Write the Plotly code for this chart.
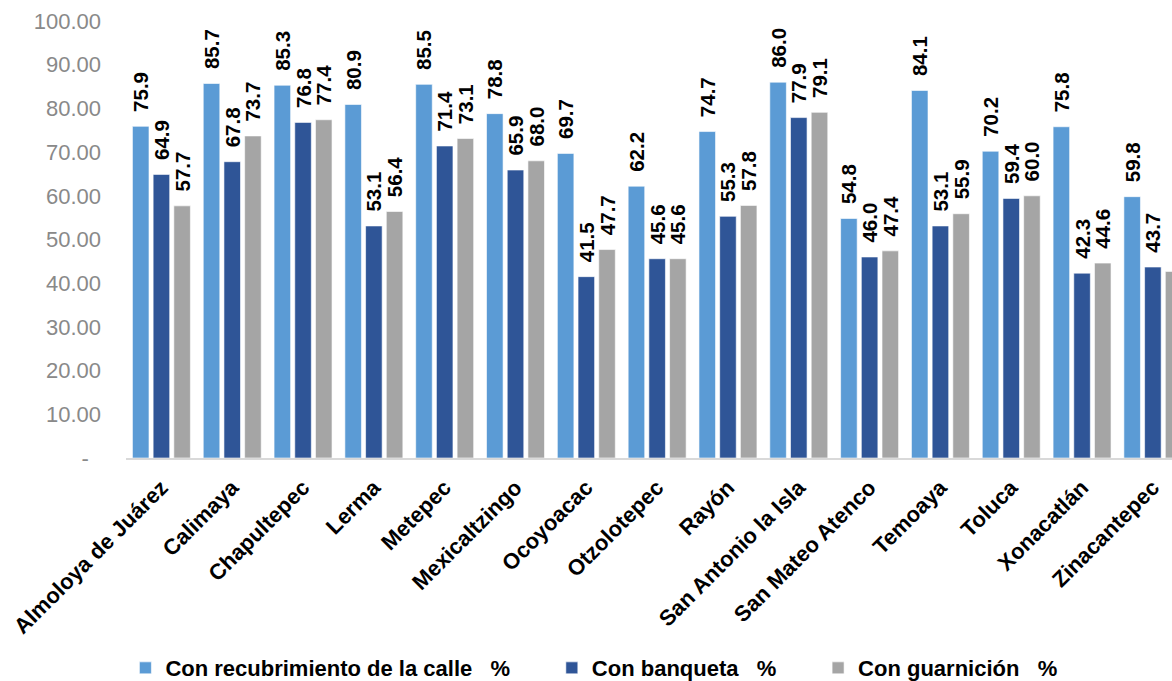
import plotly.graph_objects as go

municipios = [
    "Almoloya de Juárez", "Calimaya", "Chapultepec", "Lerma", "Metepec",
    "Mexicaltzingo", "Ocoyoacac", "Otzolotepec", "Rayón", "San Antonio la Isla",
    "San Mateo Atenco", "Temoaya", "Toluca", "Xonacatlán", "Zinacantepec",
]
recubrimiento = [75.9, 85.7, 85.3, 80.9, 85.5, 78.8, 69.7, 62.2, 74.7, 86.0, 54.8, 84.1, 70.2, 75.8, 59.8]
banqueta = [64.9, 67.8, 76.8, 53.1, 71.4, 65.9, 41.5, 45.6, 55.3, 77.9, 46.0, 53.1, 59.4, 42.3, 43.7]
guarnicion = [57.7, 73.7, 77.4, 56.4, 73.1, 68.0, 47.7, 45.6, 57.8, 79.1, 47.4, 55.9, 60.0, 44.6, 42.7]

y_ticks = [0, 10, 20, 30, 40, 50, 60, 70, 80, 90, 100]
y_ticktext = ["-\u00a0\u00a0"] + [f"{v:.2f}" for v in y_ticks[1:]]

NB = "\u00a0"
series = [
    ("Con recubrimiento de la calle" + NB * 3 + "%" + NB * 6, recubrimiento, "#5B9BD5"),
    ("Con banqueta" + NB * 3 + "%" + NB * 6, banqueta, "#2F5597"),
    ("Con guarnición" + NB * 3 + "%", guarnicion, "#A5A5A5"),
]

FONT = "Arial, Liberation Sans, sans-serif"

fig = go.Figure()
for name, vals, color in series:
    fig.add_trace(go.Bar(
        x=municipios,
        y=vals,
        name=name,
        marker=dict(color=color, line=dict(color="rgba(255,255,255,0.6)", width=1)),
        texttemplate=NB + NB + "%{y:.1f}",
        textposition="outside",
        textangle=-90,
        constraintext="none",
        cliponaxis=False,
        textfont=dict(family=FONT, size=20.5, color="#000000", weight="bold"),
    ))

fig.update_layout(
    width=1172,
    height=681,
    margin=dict(l=126, r=0, t=21, b=223, autoexpand=False),
    paper_bgcolor="white",
    plot_bgcolor="white",
    barmode="group",
    bargap=0.123,
    bargroupgap=0.2,
    font=dict(family=FONT),
    showlegend=True,
    legend=dict(
        orientation="h",
        xref="container",
        yref="container",
        x=0.107,
        xanchor="left",
        y=0.019,
        yanchor="middle",
        font=dict(family=FONT, size=22, color="#000000", weight="bold"),
        itemclick=False,
        traceorder="normal",
    ),
    xaxis=dict(
        type="category",
        range=[-0.5, 14.27],
        automargin=False,
        showline=True,
        linecolor="#D9D9D9",
        linewidth=2,
        showgrid=False,
        ticks="",
        tickangle=-45,
        ticklabelstandoff=6,
        tickfont=dict(family=FONT, size=22, color="#000000", weight="bold"),
    ),
    yaxis=dict(
        range=[0, 100],
        automargin=False,
        tickvals=y_ticks,
        ticktext=y_ticktext,
        showgrid=False,
        showline=False,
        zeroline=False,
        ticks="",
        ticklabelstandoff=24,
        tickfont=dict(family=FONT, size=22, color="#898989"),
    ),
)

fig.write_html("out.html")
